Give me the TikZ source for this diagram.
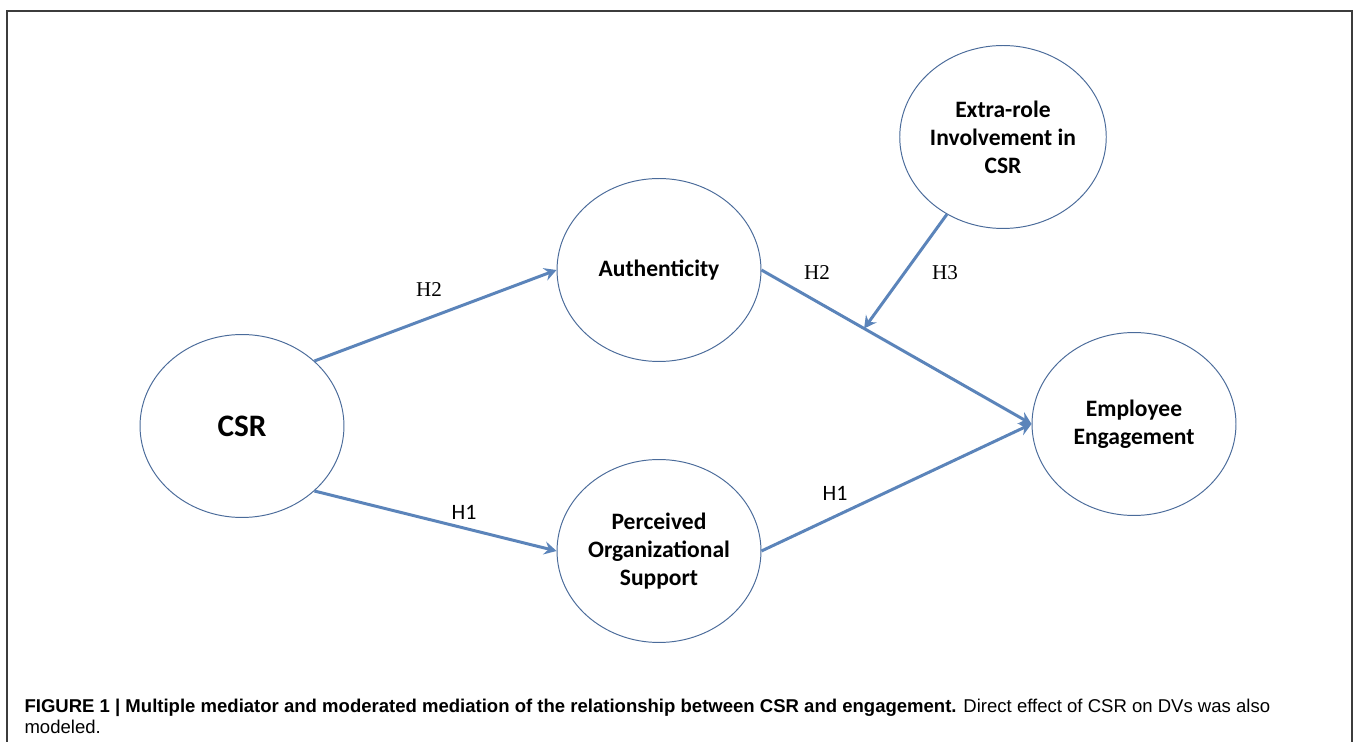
\documentclass[tikz,border=0pt]{standalone}
\usepackage{fontspec}
\newfontfamily\carlito{Carlito}
\newfontfamily\libserif{Liberation Serif}
\newfontfamily\libsans{Liberation Sans}
\usetikzlibrary{shapes.geometric, arrows.meta, calc}
\definecolor{rimblue}{HTML}{4A6B9A}
\definecolor{linkblue}{HTML}{5B84BA}
\definecolor{framegray}{HTML}{3C3C3C}

\begin{document}
\begin{tikzpicture}[x=0.02cm, y=-0.02cm, line width=0.6pt,
  factor/.style={ellipse, draw=rimblue, line width=0.55pt, fill=white,
    minimum width=4.08cm, minimum height=3.66cm, inner sep=0pt, align=center,
    font=\carlito\bfseries\fontsize{13.4}{16}\selectfont},
  link/.style={draw=linkblue, line width=1.7pt,
    -{Stealth[length=7pt, width=7.5pt, inset=2.5pt]}},
  hyp/.style={inner sep=0pt, font=\libserif\fontsize{12}{14}\selectfont},
  hypsans/.style={inner sep=0pt, font=\carlito\fontsize{12.5}{14}\selectfont}]
  \useasboundingbox (0,0) rectangle (1356,742);
  % 테두리
  \draw[framegray, line width=0.85pt] (7,742) -- (7,11) -- (1352,11) -- (1352,742);
  % 변수
  \node[factor, font=\carlito\bfseries\fontsize{17.8}{20}\selectfont] (csr) at (242,426) {CSR};
  \node[factor] (auth) at (659,270) {Authenticity};
  \node[factor] (pos) at (659,551) {Perceived\\Organizational\\Support};
  \node[factor] (eri) at (1003,137) {Extra-role\\Involvement in\\CSR};
  \node[factor] (emp) at (1134,424) {Employee\\Engagement};
  % 경로
  \draw[link] (csr.north east) -- (auth.west);
  \draw[link] (csr.south east) -- (pos.west);
  \draw[link] (auth.east) -- (emp.west);
  \draw[link] (pos.east) -- (emp.west);
  \coordinate (mod) at ($(auth.east)!0.38!(emp.west)$);
  \draw[link] (eri) -- (mod);
  % 가설
  \node[hyp] (h2a) at (429,290) {H2};
  \node[hyp] (h2b) at (817,273) {H2};
  \node[hyp] (h3) at (945,273) {H3};
  \node[hypsans] (h1a) at (464,512) {H1};
  \node[hypsans] (h1b) at (835,493) {H1};
  % 캡션
  \node[anchor=base west, inner sep=0pt, font=\libsans\fontsize{10.55}{12}\selectfont] (cap1) at (24,713)
    {\textbf{FIGURE 1 | Multiple mediator and moderated mediation of the relationship between CSR and engagement.} Direct effect of CSR on DVs was also};
  \node[anchor=base west, inner sep=0pt, font=\libsans\fontsize{10.55}{12}\selectfont] (cap2) at (24,734) {modeled.};
\end{tikzpicture}
\end{document}
